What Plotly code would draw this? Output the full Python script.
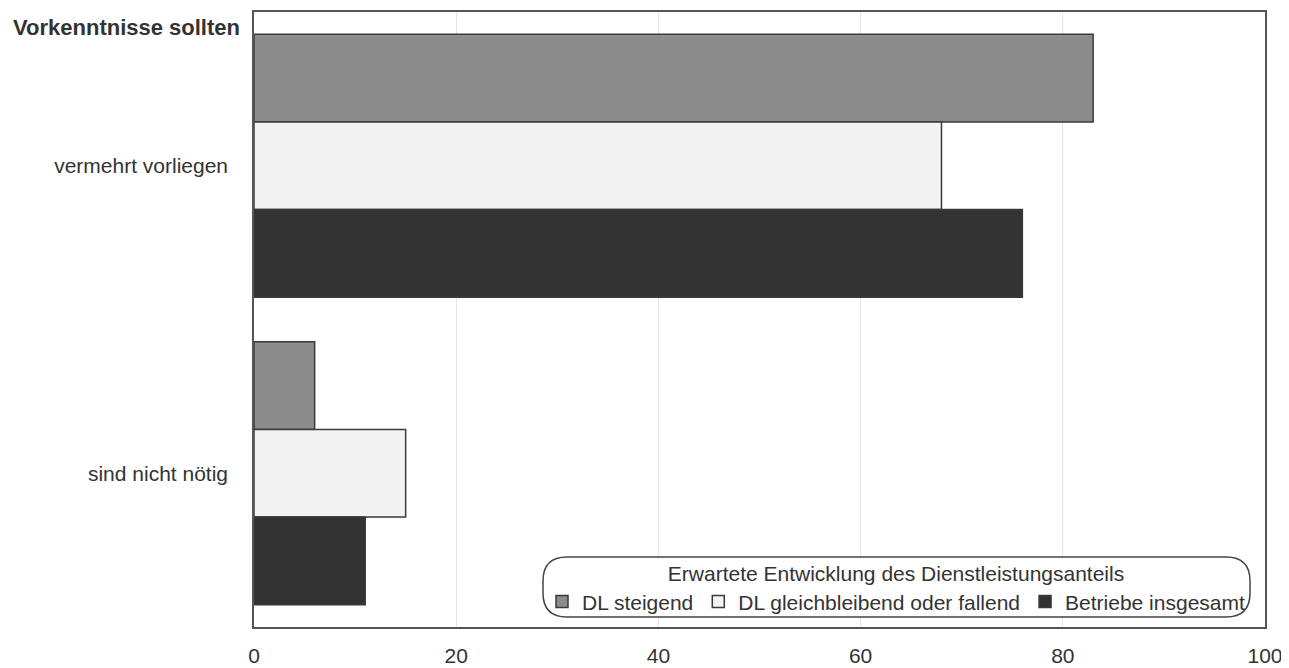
import plotly.graph_objects as go

categories = ["vermehrt vorliegen", "sind nicht nötig"]
series_names = ["DL steigend", "DL gleichbleibend oder fallend", "Betriebe insgesamt"]
dl_steigend = [83, 6]
dl_gleich = [68, 15]
betriebe_gesamt = [76, 11]
x_ticks = [0, 20, 40, 60, 80, 100]

values = [dl_steigend, dl_gleich, betriebe_gesamt]
fills = ["#8c8c8c", "#f3f3f3", "#333333"]

fig = go.Figure()
for name, vals, col in zip(series_names, values, fills):
    fig.add_trace(go.Bar(
        y=categories, x=vals, name=name, orientation="h",
        marker=dict(color=col, line=dict(color="#3a3a3a", width=1.5)),
    ))

OFF = 8  # page body margin
W, H = 1289 - OFF, 668 - OFF
ml, mr, mt, mb = 254 - OFF, 24, 12 - OFF, 41
pw, ph = W - ml - mr, H - mt - mb

def px_x(p):  # screen pixel -> paper
    return (p - OFF - ml) / pw

def px_y(p):
    return (H - mb - (p - OFF)) / ph

# rounded legend frame
x0, x1 = px_x(543), px_x(1250)
y0, y1 = px_y(617), px_y(557)
rx, ry = 24 / pw, 24 / ph
path = (f"M {x0+rx},{y1} L {x1-rx},{y1} Q {x1},{y1} {x1},{y1-ry} "
        f"L {x1},{y0+ry} Q {x1},{y0} {x1-rx},{y0} L {x0+rx},{y0} "
        f"Q {x0},{y0} {x0},{y0+ry} L {x0},{y1-ry} Q {x0},{y1} {x0+rx},{y1} Z")

FS = 21
fig.update_layout(
    width=W, height=H,
    margin=dict(l=ml, r=mr, t=mt, b=mb, autoexpand=False),
    paper_bgcolor="white", plot_bgcolor="white",
    font=dict(family="Liberation Sans, Arial, sans-serif", size=FS, color="#333333"),
    barmode="group", bargap=0.145, bargroupgap=0,
    xaxis=dict(range=[0, 100], tickvals=x_ticks, showgrid=True, gridcolor="#e6e6e6",
               gridwidth=1, showline=True, mirror=True, linecolor="#555555", linewidth=1.5,
               zeroline=False, ticks="", ticklabelstandoff=9, automargin=False,
               tickfont=dict(size=FS, color="#333333")),
    yaxis=dict(autorange="reversed", showgrid=False, showline=True, mirror=True,
               linecolor="#555555", linewidth=1.5, ticks="", ticklabelstandoff=20,
               automargin=False, tickfont=dict(size=FS, color="#333333")),
    showlegend=True,
    legend=dict(orientation="h", x=px_x(896), xanchor="center", y=px_y(554), yanchor="top",
                bgcolor="rgba(0,0,0,0)", borderwidth=0,
                title=dict(text="Erwartete Entwicklung des Dienstleistungsanteils",
                           side="top center", font=dict(size=FS)),
                font=dict(size=FS), itemwidth=30, tracegroupgap=0),
    shapes=[dict(type="path", path=path, xref="paper", yref="paper",
                 line=dict(color="#444444", width=1.5), fillcolor="rgba(255,255,255,0.9)",
                 layer="above")],
    annotations=[dict(text="<b>Vorkenntnisse sollten</b>", xref="paper", yref="paper",
                      x=0, y=px_y(27), xanchor="right", yanchor="middle", xshift=-12,
                      showarrow=False, font=dict(size=22, color="#333333"))],
)

fig.write_html("out.html")
